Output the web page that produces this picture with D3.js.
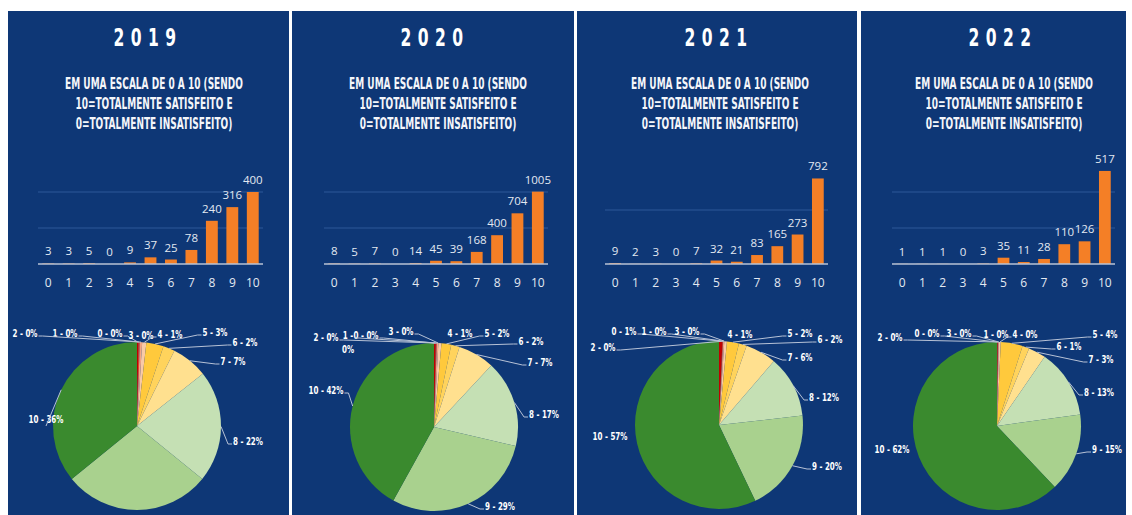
<!DOCTYPE html>
<html>
<head>
<meta charset="utf-8">
<script src="https://cdn.jsdelivr.net/npm/d3@7"></script>
<style>
  html, body { margin: 0; padding: 0; background: #ffffff; }
  svg { display: block; }
</style>
</head>
<body>
<div id="chart"></div>
<script>
// chart data
const years = ["2019", "2020", "2021", "2022"];
const categories = ["0", "1", "2", "3", "4", "5", "6", "7", "8", "9", "10"];
const values2019 = [3, 3, 5, 0, 9, 37, 25, 78, 240, 316, 400];
const values2020 = [8, 5, 7, 0, 14, 45, 39, 168, 400, 704, 1005];
const values2021 = [9, 2, 3, 0, 7, 32, 21, 83, 165, 273, 792];
const values2022 = [1, 1, 1, 0, 3, 35, 11, 28, 110, 126, 517];
const yMaxes = [600, 1500, 1000, 600];
const yTickSteps = [200, 500, 500, 200];
const subtitleLines = [
  "EM UMA ESCALA DE 0 A 10 (SENDO",
  "10=TOTALMENTE SATISFEITO E",
  "0=TOTALMENTE INSATISFEITO)"
];
const allValues = [values2019, values2020, values2021, values2022];

// layout (not data)
const width = 1132;
const height = 515;
const condensed = "'Liberation Sans Narrow', 'DejaVu Sans Condensed', 'Arial Narrow', sans-serif";
const panelX = [[8, 289], [292, 574], [577, 857], [861, 1126]];
const titleX = [145, 432, 716, 1000];
const subtitleX = [154, 438, 720, 1004];
const barRanges = [[38, 263], [324, 548], [605, 828], [892, 1115]];
const pieCenters = [[137, 426], [434, 427], [719, 425], [997, 426]];
const pieRadius = 84;
const sliceColors = ["#c00000", "#e0452c", "#f4a582", "#f8cbad", "#f9c9a6",
  "#ffc93c", "#ffd35c", "#ffe08f", "#c5e0b4", "#a9d18e", "#3a8a2e"];

// label positions for each pie slice [x, y], null = hidden, wrap = two lines
const pieLabelPos = [
  [[110, 333], [65, 333], [25, 333], [141, 335], [170, 334], [215, 332], [245, 342], [233, 361], [248, 441], null, [46, 419]],
  [[366, 335], [348, 335, true], [326, 337], [401, 331], [460, 333], [497, 333], [531, 341], [540, 362], [544, 414], [500, 506], [326, 390]],
  [[624, 331], [654, 331], [603, 347], [687, 331], [740, 334], [800, 333], [830, 339], [800, 357], [824, 397], [827, 466], [610, 436]],
  [[927, 333], [996, 334], [890, 337], [959, 333], [1025, 334], [1105, 334], [1069, 346], [1101, 359], [1099, 392], [1107, 449], [892, 449]]
];

const svg = d3.select("#chart").append("svg")
  .attr("width", width)
  .attr("height", height);

function textWidth(str, size, spacing) {
  const t = svg.append("text")
    .attr("font-family", condensed)
    .attr("font-weight", "bold")
    .attr("font-size", size)
    .attr("letter-spacing", spacing || 0)
    .text(str);
  const w = t.node().getComputedTextLength();
  t.remove();
  return w;
}

// horizontal squeeze factors
const labelK = 25 / textWidth("2 - 0%", "11px");
const subK = 178 / textWidth(subtitleLines[0], "16px");
const titleK = 0.72;

years.forEach((year, p) => {
  const values = allValues[p];
  const [left, right] = panelX[p];
  const g = svg.append("g");

  // Panel background
  g.append("rect")
    .attr("x", left)
    .attr("y", 11)
    .attr("width", right - left)
    .attr("height", height - 11)
    .attr("fill", "#0e3776");

  // Title
  g.append("g")
    .attr("transform", `translate(${titleX[p] + 3},46) scale(${titleK},1)`)
    .append("text")
    .attr("text-anchor", "middle")
    .attr("fill", "#ffffff")
    .attr("font-family", condensed)
    .attr("font-weight", "bold")
    .attr("font-size", "24px")
    .attr("letter-spacing", "9px")
    .text(year);

  // Subtitle
  g.append("g")
    .attr("transform", `translate(${subtitleX[p]},0) scale(${subK},1)`)
    .selectAll("text")
    .data(subtitleLines)
    .enter()
    .append("text")
    .attr("x", 0)
    .attr("y", (d, i) => 89 + i * 20)
    .attr("text-anchor", "middle")
    .attr("fill", "#f4f6fa")
    .attr("font-family", condensed)
    .attr("font-weight", "bold")
    .attr("font-size", "16px")
    .text(d => d);

  // Bar chart
  const x = d3.scaleBand()
    .domain(categories)
    .range(barRanges[p])
    .paddingInner(0.42)
    .paddingOuter(0.21);

  const y = d3.scaleLinear()
    .domain([0, yMaxes[p]])
    .range([264, 156]);

  // Grid lines (top one not drawn)
  const gridVals = d3.range(yTickSteps[p], yMaxes[p], yTickSteps[p]);
  g.append("g")
    .selectAll("line")
    .data(gridVals)
    .enter()
    .append("line")
    .attr("x1", barRanges[p][0])
    .attr("x2", barRanges[p][1])
    .attr("y1", d => y(d))
    .attr("y2", d => y(d))
    .attr("stroke", "#2d5898")
    .attr("stroke-width", 1);

  g.append("g")
    .selectAll("rect")
    .data(values)
    .enter()
    .append("rect")
    .attr("x", (d, i) => x(categories[i]))
    .attr("y", d => y(d))
    .attr("width", x.bandwidth())
    .attr("height", d => 264 - y(d))
    .attr("fill", "#f47f26");

  // Baseline axis
  g.append("line")
    .attr("x1", barRanges[p][0])
    .attr("x2", barRanges[p][1])
    .attr("y1", 264)
    .attr("y2", 264)
    .attr("stroke", "#b9c3d6")
    .attr("stroke-width", 1.5);

  // Value labels
  g.append("g")
    .selectAll("text")
    .data(values)
    .enter()
    .append("text")
    .attr("x", (d, i) => x(categories[i]) + x.bandwidth() / 2)
    .attr("y", d => y(d) - 8)
    .attr("text-anchor", "middle")
    .attr("fill", "#e3e9f2")
    .attr("font-family", "'Open Sans', sans-serif")
    .attr("font-size", "11.5px")
    .text(d => d);

  // Category ticks
  g.append("g")
    .selectAll("text")
    .data(categories)
    .enter()
    .append("text")
    .attr("x", d => x(d) + x.bandwidth() / 2)
    .attr("y", 287)
    .attr("text-anchor", "middle")
    .attr("fill", "#e3e9f2")
    .attr("font-family", "'Open Sans', sans-serif")
    .attr("font-size", "12px")
    .text(d => d);

  // Pie
  const total = d3.sum(values);
  const pie = d3.pie().sort(null).value(d => d)(values);
  const arc = d3.arc().innerRadius(0).outerRadius(pieRadius);
  const [cx, cy] = pieCenters[p];

  const pieG = g.append("g").attr("transform", `translate(${cx},${cy})`);
  pieG.selectAll("path")
    .data(pie)
    .enter()
    .append("path")
    .attr("d", arc)
    .attr("fill", (d, i) => sliceColors[i]);

  // Pie labels with leader lines
  const labelG = g.append("g");
  pie.forEach((d, i) => {
    const pos = pieLabelPos[p][i];
    if (!pos) return;
    const pct = Math.round(d.data / total * 100);
    const txt = `${categories[i]} - ${pct}%`;
    const lines = pos[2] ? [`${categories[i]} -`, `${pct}%`] : [txt];
    const t = labelG.append("g")
      .attr("transform", `translate(${pos[0]},${pos[1] + 4}) scale(${labelK},1)`)
      .append("text")
      .attr("text-anchor", "middle")
      .attr("fill", "#ffffff")
      .attr("font-family", condensed)
      .attr("font-weight", "bold")
      .attr("font-size", "11px");
    lines.forEach((ln, j) => {
      t.append("tspan")
        .attr("x", 0)
        .attr("y", j * 14)
        .text(ln);
    });
    let w = 0;
    t.selectAll("tspan").each(function () {
      w = Math.max(w, this.getComputedTextLength() * labelK);
    });

    // leader line to the slice edge
    const a = (d.startAngle + d.endAngle) / 2;
    const px = cx + pieRadius * Math.sin(a);
    const py = cy - pieRadius * Math.cos(a);
    const lx0 = pos[0] - w / 2, lx1 = pos[0] + w / 2;
    const dxBox = px < lx0 ? lx0 - px : (px > lx1 ? px - lx1 : 0);
    const dyBox = Math.abs(py - pos[1]) - 6;
    if (Math.hypot(dxBox, Math.max(0, dyBox)) < 10) return;
    let pts;
    if (dxBox === 0) {
      pts = [[pos[0], pos[1] + 7], [px, py]];
    } else if (px > pos[0]) {
      pts = [[lx1 + 1, pos[1] + 3], [lx1 + 5, pos[1] + 3], [px, py]];
    } else {
      pts = [[lx0 - 1, pos[1] + 3], [lx0 - 5, pos[1] + 3], [px, py]];
    }
    labelG.append("path")
      .attr("d", d3.line()(pts))
      .attr("fill", "none")
      .attr("stroke", "#b7c2d6")
      .attr("stroke-width", 1);
  });
});
</script>
</body>
</html>
